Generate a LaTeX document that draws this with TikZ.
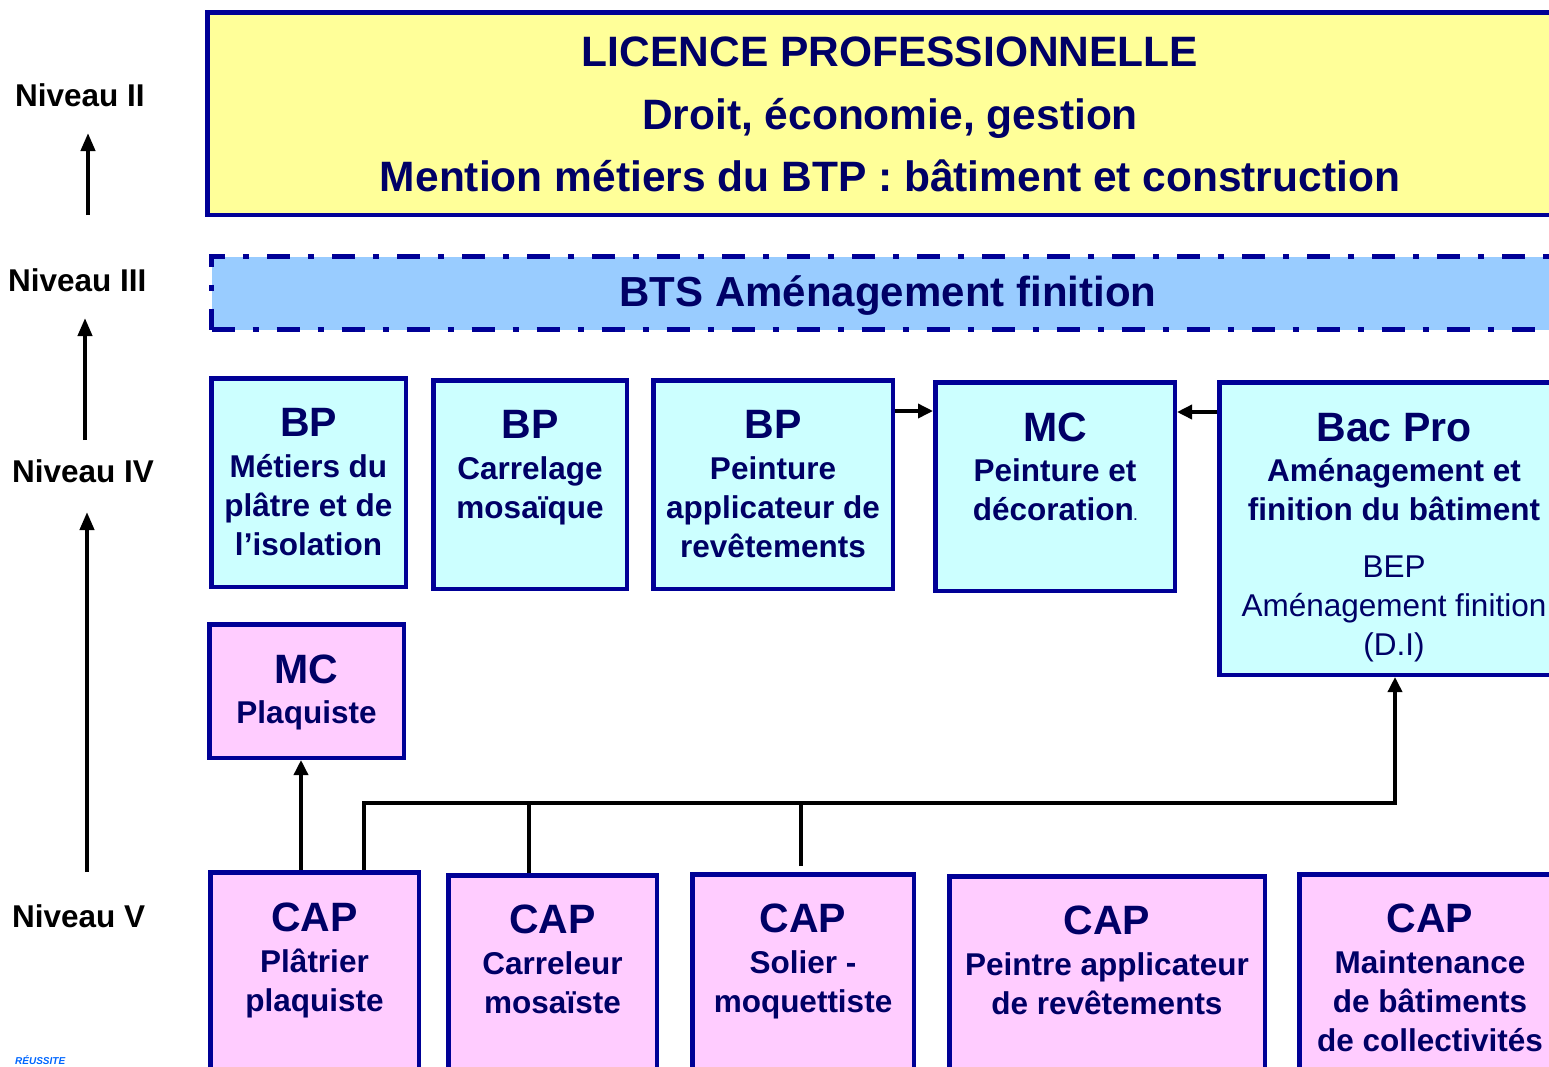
\documentclass[tikz,border=0pt]{standalone}
\usepackage{fontspec}
\setmainfont{Liberation Sans}
\usetikzlibrary{arrows.meta}
\definecolor{navy}{RGB}{0,0,150}
\definecolor{ink}{RGB}{0,0,102}
\definecolor{licfill}{RGB}{255,255,153}
\definecolor{btsfill}{RGB}{153,204,255}
\definecolor{bpfill}{RGB}{204,255,255}
\definecolor{capfill}{RGB}{255,204,255}
\newcommand{\ttl}[1]{{\fontsize{41}{39}\selectfont #1}}
\begin{document}
\begin{tikzpicture}[x=1pt, y=-1pt,
  box/.style={draw=navy, line width=4.5pt, anchor=north west, inner sep=0pt},
  txt/.style={anchor=north, inner sep=0pt, align=center, text=ink, font=\bfseries\fontsize{31.5}{39}\selectfont},
  niv/.style={anchor=base west, inner sep=0pt, font=\bfseries\fontsize{31.5}{39}\selectfont},
  up/.style={line width=4pt, -{Triangle[length=18pt,width=14pt]}},
  arr/.style={line width=3.5pt, -{Triangle[length=15pt,width=14pt]}}]

\useasboundingbox (0,0) rectangle (1549,1066);
\clip (0,0) rectangle (1549,1066);

% niveaux
\node[niv] (n2) at (15,106) {Niveau II};
\node[niv] (n3) at (8,291) {Niveau III};
\node[niv] (n4) at (12,482) {Niveau IV};
\node[niv] (n5) at (12,927) {Niveau V};
\coordinate (v2a) at (88,215); \coordinate (v2b) at (88,133);
\coordinate (v3a) at (85,440); \coordinate (v3b) at (85,318);
\coordinate (v4a) at (87,872); \coordinate (v4b) at (87,512);
\draw[up] (v2a) -- (v2b);
\draw[up] (v3a) -- (v3b);
\draw[up] (v4a) -- (v4b);

% licence et BTS
\node[box, fill=licfill, minimum width=1400pt, minimum height=202.5pt] (lic) at (205,10) {};
\node[txt, font=\bfseries\fontsize{42.5}{62.5}\selectfont] (lict) at (890,37)
  {LICENCE PROFESSIONNELLE\\Droit, économie, gestion\\Mention métiers du BTP : bâtiment et construction};
\node[box, fill=btsfill, line width=5pt, dash pattern=on 23pt off 18pt on 6pt off 18pt,
  minimum width=1400pt, minimum height=73pt] (bts) at (209,254) {};
\node[txt, anchor=base, font=\bfseries\fontsize{42}{50}\selectfont] (btst) at (888,306) {BTS Aménagement finition};

% niveau IV
\node[box, fill=bpfill, minimum width=194.5pt, minimum height=208.5pt] (b1) at (209,376) {};
\node[box, fill=bpfill, minimum width=193.5pt, minimum height=208.5pt] (b2) at (431,378) {};
\node[box, fill=bpfill, minimum width=239.5pt, minimum height=208.5pt] (b3) at (651,378) {};
\node[box, fill=bpfill, minimum width=239.5pt, minimum height=208.5pt] (b4) at (933,380) {};
\node[box, fill=bpfill, minimum width=400pt, minimum height=292.5pt] (b5) at (1217,380) {};
\node[txt] (b1t) at ([yshift=-32pt]b1.north) {\ttl{BP}\\[2pt]Métiers du\\plâtre et de\\l’isolation};
\node[txt] (b2t) at ([yshift=-32pt]b2.north) {\ttl{BP}\\[2pt]Carrelage\\mosaïque};
\node[txt] (b3t) at ([yshift=-32pt]b3.north) {\ttl{BP}\\[2pt]Peinture\\applicateur de\\revêtements};
\node[txt] (b4t) at ([yshift=-33pt]b4.north) {\ttl{MC}\\[1pt]Peinture et\\décoration{\fontsize{12}{12}\selectfont.}};
\node[txt] (b5t) at (1394,413) {\ttl{Bac Pro}\\[1pt]Aménagement et\\finition du bâtiment\\[18pt]
  \mdseries BEP\\\mdseries Aménagement finition\\\mdseries (D.I)};

% niveau V
\node[box, fill=capfill, minimum width=194.5pt, minimum height=133.5pt] (mcp) at (207,622) {};
\node[txt] (mcpt) at ([yshift=-33pt]mcp.north) {\ttl{MC}\\[1pt]Plaquiste};
\node[box, fill=capfill, minimum width=208.5pt, minimum height=300pt] (c1) at (208,870) {};
\node[box, fill=capfill, minimum width=208.5pt, minimum height=300pt] (c2) at (446,873) {};
\node[box, fill=capfill, minimum width=221.5pt, minimum height=300pt] (c3) at (690,872) {};
\node[box, fill=capfill, minimum width=315.5pt, minimum height=300pt] (c4) at (947,874) {};
\node[box, fill=capfill, minimum width=300pt, minimum height=300pt] (c5) at (1297,872) {};
\node[txt] (c1t) at ([yshift=-33pt]c1.north) {\ttl{CAP}\\[2pt]Plâtrier\\plaquiste};
\node[txt] (c2t) at ([yshift=-32pt]c2.north) {\ttl{CAP}\\[2pt]Carreleur\\mosaïste};
\node[txt] (c3t) at ([yshift=-32pt]c3.north) {\ttl{CAP}\\[2pt]Solier -\\moquettiste};
\node[txt] (c4t) at ([yshift=-32pt]c4.north) {\ttl{CAP}\\[2pt]Peintre applicateur\\de revêtements};
\node[txt] (c5t) at (1430,904) {\ttl{CAP}\\[2pt]Maintenance\\de bâtiments\\de collectivités};

% liaisons
\draw[arr] ([yshift=-33pt]b3.north east) -- ([yshift=-33pt]b3.north east -| b4.west);
\draw[arr] ([yshift=-32pt]b5.north west) -- ([yshift=-32pt]b5.north west -| b4.east);
\draw[arr] ([xshift=93pt]c1.north west) -- ([xshift=93pt]c1.north west |- mcp.south);
\coordinate (bus) at (1395,803);
\draw[arr] ([xshift=156pt]c1.north west) |- (bus) -- (bus |- b5.south);
\draw[line width=3.5pt] ([xshift=83pt]c2.north west) -- ([xshift=83pt]c2.north west |- bus);
\draw[line width=3.5pt] ([xshift=111pt,yshift=6pt]c3.north west) -- ([xshift=111pt]c3.north west |- bus);

\node[anchor=base west, inner sep=0pt, text=blue!60!cyan, font=\bfseries\itshape\fontsize{10}{10}\selectfont] (logo) at (15,1064) {RÉUSSITE};
\end{tikzpicture}
\end{document}
